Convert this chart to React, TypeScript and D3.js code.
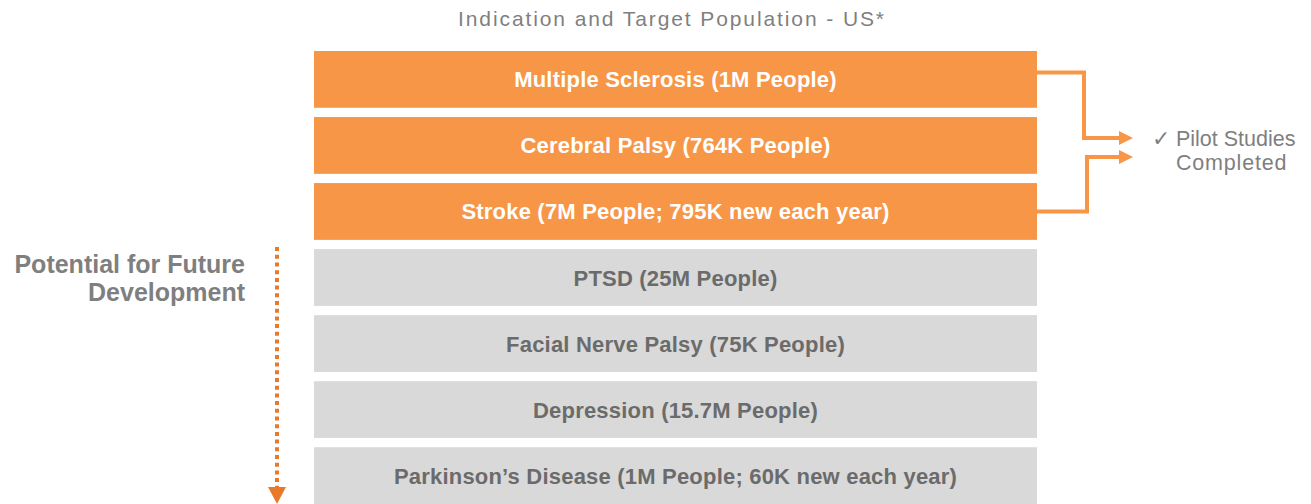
import React, { useEffect, useRef } from "react";
import * as d3 from "d3";

const indications = [
  "Multiple Sclerosis",
  "Cerebral Palsy",
  "Stroke",
  "PTSD",
  "Facial Nerve Palsy",
  "Depression",
  "Parkinson\u2019s Disease",
];
const population = [
  "1M People",
  "764K People",
  "7M People; 795K new each year",
  "25M People",
  "75K People",
  "15.7M People",
  "1M People; 60K new each year",
];
const pilotDone = [true, true, true, false, false, false, false];

const title = "Indication and Target Population - US*";
const futureLabel = ["Potential for Future", "Development"];
const pilotLabel = ["\u2713 Pilot Studies", "Completed"];

const W = 1311,
  H = 504;
const ORANGE = "#F79646";
const GRAY = "#D9D9D9";
const TEXT_GRAY = "#7F7F7F";
const FONT = "Liberation Sans, Arial, sans-serif";

export default function App() {
  const ref = useRef<SVGSVGElement>(null);

  useEffect(() => {
    const svg = d3.select(ref.current);
    svg.selectAll("*").remove();

    const x = d3.scaleLinear().domain([0, 1]).range([314, 1037]);
    const y = d3
      .scaleBand()
      .domain(indications)
      .range([51, 504])
      .paddingInner(0.14)
      .paddingOuter(0);

    svg
      .append("text")
      .attr("x", 672)
      .attr("y", 26)
      .attr("text-anchor", "middle")
      .style("font-family", FONT)
      .style("font-size", "21px")
      .style("letter-spacing", "1.9px")
      .style("fill", TEXT_GRAY)
      .text(title);

    const rows = svg
      .selectAll("g.row")
      .data(indications)
      .enter()
      .append("g")
      .attr("class", "row");

    rows
      .append("rect")
      .attr("x", x(0))
      .attr("y", (d) => y(d)!)
      .attr("width", x(1) - x(0))
      .attr("height", y.bandwidth())
      .attr("fill", (d, i) => (pilotDone[i] ? ORANGE : GRAY));

    rows
      .append("text")
      .attr("x", (x(0) + x(1)) / 2)
      .attr("y", (d) => y(d)! + y.bandwidth() / 2 + 8)
      .attr("text-anchor", "middle")
      .style("font-family", FONT)
      .style("font-weight", "bold")
      .style("font-size", "22px")
      .style("letter-spacing", "0.2px")
      .style("fill", (d, i) => (pilotDone[i] ? "#FFFFFF" : "#6B6B6B"))
      .text((d, i) => `${d} (${population[i]})`);

    // connectors to "Pilot Studies Completed"
    const first = indications[0];
    const last = indications[pilotDone.lastIndexOf(true)];
    const elbowX = 1084;
    const tipX = 1133;
    const yTop = y(first)! + y.bandwidth() * 0.38;
    const yBot = y(last)! + y.bandwidth() / 2;
    const yArrow1 = 138;
    const yArrow2 = 157;
    const line = d3.line();
    const connectors = [
      [
        [x(1), yTop],
        [elbowX, yTop],
        [elbowX, yArrow1],
        [tipX - 12, yArrow1],
      ],
      [
        [x(1), yBot],
        [elbowX + 3, yBot],
        [elbowX + 3, yArrow2],
        [tipX - 12, yArrow2],
      ],
    ] as [number, number][][];
    connectors.forEach((pts) => {
      svg
        .append("path")
        .attr("d", line(pts))
        .attr("fill", "none")
        .attr("stroke", ORANGE)
        .attr("stroke-width", 4);
    });
    [yArrow1, yArrow2].forEach((ya) => {
      svg
        .append("path")
        .attr("d", `M${tipX - 14},${ya - 7}L${tipX},${ya}L${tipX - 14},${ya + 7}Z`)
        .attr("fill", ORANGE);
    });

    svg
      .selectAll("text.pilot")
      .data(pilotLabel)
      .enter()
      .append("text")
      .attr("class", "pilot")
      .attr("x", (d, i) => (i === 0 ? 1152 : 1176))
      .attr("y", (d, i) => 146 + i * 24)
      .style("font-family", FONT)
      .style("font-size", "21.5px")
      .style("letter-spacing", (d, i) => (i === 0 ? "0px" : "0.8px"))
      .style("fill", TEXT_GRAY)
      .text((d) => d);

    // left label + dotted arrow
    svg
      .selectAll("text.future")
      .data(futureLabel)
      .enter()
      .append("text")
      .attr("class", "future")
      .attr("x", 245)
      .attr("y", (d, i) => 273 + i * 28)
      .attr("text-anchor", "end")
      .style("font-family", FONT)
      .style("font-weight", "bold")
      .style("font-size", "25px")
      .style("fill", TEXT_GRAY)
      .text((d) => d);

    const ax = 277;
    const ay0 = y(indications[3])! - 2;
    svg
      .append("line")
      .attr("x1", ax)
      .attr("x2", ax)
      .attr("y1", ay0)
      .attr("y2", 487)
      .attr("stroke", "#E8792B")
      .attr("stroke-width", 4)
      .attr("stroke-dasharray", "4 3.7");
    svg
      .append("path")
      .attr("d", `M${ax - 9},${487}L${ax + 9},${487}L${ax},${504}Z`)
      .attr("fill", "#E8792B");
  }, []);

  return (
    <svg
      ref={ref}
      width={W}
      height={H}
      style={{ position: "absolute", left: 0, top: 0, background: "#fff" }}
    />
  );
}
